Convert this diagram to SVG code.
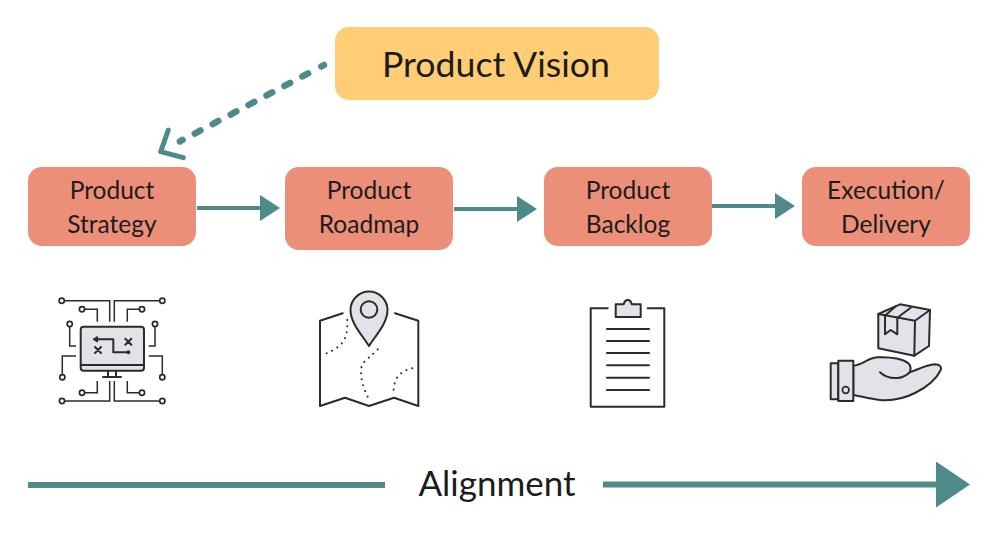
<svg xmlns="http://www.w3.org/2000/svg" width="1000" height="554" viewBox="0 0 1000 554">
  <style>
    text { font-family: Lato, "Open Sans", sans-serif; fill: #1c1c1c; text-anchor: middle; }
    .step { fill: #ec8f78; }
    .label { font-size: 24.500px; }
    .vision { font-size: 35.700px; }
    .align { font-size: 35px; }
    .flow { fill: none; stroke: #4f8a8b; stroke-width: 4; }
    .ink { fill: none; stroke: #2b2b2d; stroke-width: 2; stroke-linejoin: round; stroke-linecap: round; }
    .thin { fill: none; stroke: #2b2b2d; stroke-width: 1.5; }
    .tint { fill: #e2e3e8; stroke: #2b2b2d; stroke-width: 2; stroke-linejoin: round; }
    .pad { fill: #fff; stroke: #2b2b2d; stroke-width: 1.7; }
    .dots { fill: none; stroke: #2b2b2d; stroke-width: 2; stroke-linecap: round; stroke-dasharray: 0.1 6; }
  </style>
  <defs>
    <marker id="head" viewBox="0 0 20 26" refX="0" refY="13" markerWidth="20" markerHeight="26" markerUnits="userSpaceOnUse" orient="auto">
      <path d="M0 0L20 13L0 26Z" fill="#4f8a8b"/>
    </marker>
    <marker id="head-large" viewBox="0 0 34 46" refX="0" refY="23" markerWidth="34" markerHeight="46" markerUnits="userSpaceOnUse" orient="auto">
      <path d="M0 0L34 23L0 46Z" fill="#4f8a8b"/>
    </marker>
  </defs>

  <g id="connectors">
    <path class="flow" d="M197 208H260" marker-end="url(#head)"/>
    <path class="flow" d="M454 209H517" marker-end="url(#head)"/>
    <path class="flow" d="M712 206H775" marker-end="url(#head)"/>
    <path d="M324 65L178 142.400" fill="none" stroke="#4f8a8b" stroke-width="6.500" stroke-linecap="round" stroke-dasharray="3 15 6.500 13.800 6.500 13.800 6.500 13.800 6.500 13.800 6.500 13.800 6.500 13.800 6.500 13.800 3 20"/>
    <path d="M168.300 130L160.700 151.700L183.300 157.700" fill="none" stroke="#4f8a8b" stroke-width="5" stroke-linecap="round" stroke-linejoin="round"/>
    <path d="M28 485H385" fill="none" stroke="#4f8a8b" stroke-width="6"/>
    <path d="M603 484.500H936" fill="none" stroke="#4f8a8b" stroke-width="6" marker-end="url(#head-large)"/>
  </g>

  <g id="product-vision">
    <rect x="335" y="27" width="324" height="73" rx="14" fill="#ffcd75"/>
    <text class="vision" x="496" y="77">Product Vision</text>
  </g>
  <g id="product-strategy">
    <rect class="step" x="28" y="167" width="168" height="79" rx="14"/>
    <text class="label" x="112" y="199">Product</text>
    <text class="label" x="112" y="233">Strategy</text>
  </g>
  <g id="product-roadmap">
    <rect class="step" x="285" y="167" width="168" height="83" rx="14"/>
    <text class="label" x="369" y="199">Product</text>
    <text class="label" x="369" y="233">Roadmap</text>
  </g>
  <g id="product-backlog">
    <rect class="step" x="544" y="167" width="168" height="79" rx="14"/>
    <text class="label" x="628" y="199">Product</text>
    <text class="label" x="628" y="233">Backlog</text>
  </g>
  <g id="execution-delivery">
    <rect class="step" x="802" y="167" width="168" height="79" rx="14"/>
    <text class="label" x="886" y="199">Execution/</text>
    <text class="label" x="886" y="233">Delivery</text>
  </g>

  <g id="strategy-icon">
    <path class="thin" d="M61.700 300.700H109.700V321.700M82 309.300H97.300V321.700M162.300 300.700H114.300V321.700M142 309.300H127.300V321.700M69.700 324V346H76M155 324V346H148.700M62.300 377.300V356H76M162.300 377.300V356H148.700M62 401H109.700V381M162.300 401H114.300V381M82 392.700H97.300V381M142 392.700H127.300V381"/>
    <g class="pad">
      <circle cx="61.700" cy="300.700" r="2.600"/><circle cx="82" cy="309.300" r="2.600"/>
      <circle cx="162.300" cy="300.700" r="2.600"/><circle cx="142" cy="309.300" r="2.600"/>
      <circle cx="69.700" cy="324" r="2.600"/><circle cx="155" cy="324" r="2.600"/>
      <circle cx="62.300" cy="377.300" r="2.600"/><circle cx="162.300" cy="377.300" r="2.600"/>
      <circle cx="62" cy="401" r="2.600"/><circle cx="162.300" cy="401" r="2.600"/>
      <circle cx="82" cy="392.700" r="2.600"/><circle cx="142" cy="392.700" r="2.600"/>
    </g>
    <rect class="tint" x="80.700" y="326.700" width="63.300" height="44" rx="3"/>
    <path class="ink" d="M80.700 365H144M108 371V377M116 371V377M103 377H121"/>
    <path class="ink" d="M96 339.300H113.300V352.300H126"/>
    <path d="M93 339.300L97.500 336.500V342Z" fill="#2b2b2d" stroke="#2b2b2d"/>
    <circle cx="128.300" cy="352.300" r="2" fill="#2b2b2d"/>
    <path class="ink" d="M125.300 338.700L131.300 344.700M131.300 338.700L125.300 344.700M95 347L101 353M101 347L95 353"/>
  </g>

  <g id="roadmap-icon">
    <path class="ink" d="M342.700 313.300L320 320.700V406L345 397.700L369 406L394 397.700L418.300 406V320.700L395 313.300"/>
    <path class="dots" d="M347.300 320C347.500 328 347 336 343 342C338 348 332 351 326.700 353.300"/>
    <path class="dots" d="M377.700 349.300C372 356 364 360 361.700 366C359.500 376 363 388 369 399.300"/>
    <path class="dots" d="M412.300 368.300C404 370 397 375 395 382C394 386 393.500 390 393.300 393.300"/>
    <path class="tint" d="M369 346C362 335 350.500 323 350.500 310A18.500 18.500 0 0 1 387.500 310C387.500 323 376 335 369 346Z"/>
    <circle cx="369" cy="309.500" r="8.300" fill="#e2e3e8" stroke="#2b2b2d" stroke-width="2"/>
  </g>

  <g id="backlog-icon">
    <path class="ink" d="M607.700 308.300H590.700V406.700H664.300V308.300H647.700"/>
    <path class="tint" d="M615.700 304.300H623.700C624.500 301 626 300 627.700 300C629.500 300 631 301 631.700 304.300H640.700V317H615.700Z"/>
    <path class="ink" d="M607 329H649M607 341H649M607 353H649M607 365.300H649M607 377.700H649M607 390H649"/>
  </g>

  <g id="delivery-icon">
    <path class="tint" d="M878.300 314L900 304.300L930 310L929 346L914.300 355.700L878.300 348.300Z"/>
    <path class="ink" d="M878.300 314L915 320.700L930 310M915 320.700L914.300 355.700"/>
    <path class="ink" d="M885 315.700V334.300L890.700 330L897.300 334.300V317.700M885 315.700L896 306M897.300 317.700L910.700 307.700"/>
    <path class="tint" d="M853.300 365.700C862 365 868 358 877 357.300C888 357 902 358 908.300 363.300C911 366 911 369 910 372C915 371 925 365 935 364.300C940 364.500 942 367 940.700 370C936 380 925 388 915 393C903 399 892 401 880 400C870 399 860 396 853.300 395Z"/>
    <path class="ink" d="M880 372.300C885 377 892 378.500 898 378C903 377.500 907 375 910 372"/>
    <rect class="tint" x="830.700" y="363.300" width="7.600" height="36"/>
    <rect class="tint" x="838.300" y="360.700" width="15" height="40.300"/>
    <circle cx="845.700" cy="390" r="3.300" fill="#e2e3e8" stroke="#2b2b2d" stroke-width="1.700"/>
  </g>

  <g id="alignment-label">
    <text class="align" x="497" y="496">Alignment</text>
  </g>
</svg>
